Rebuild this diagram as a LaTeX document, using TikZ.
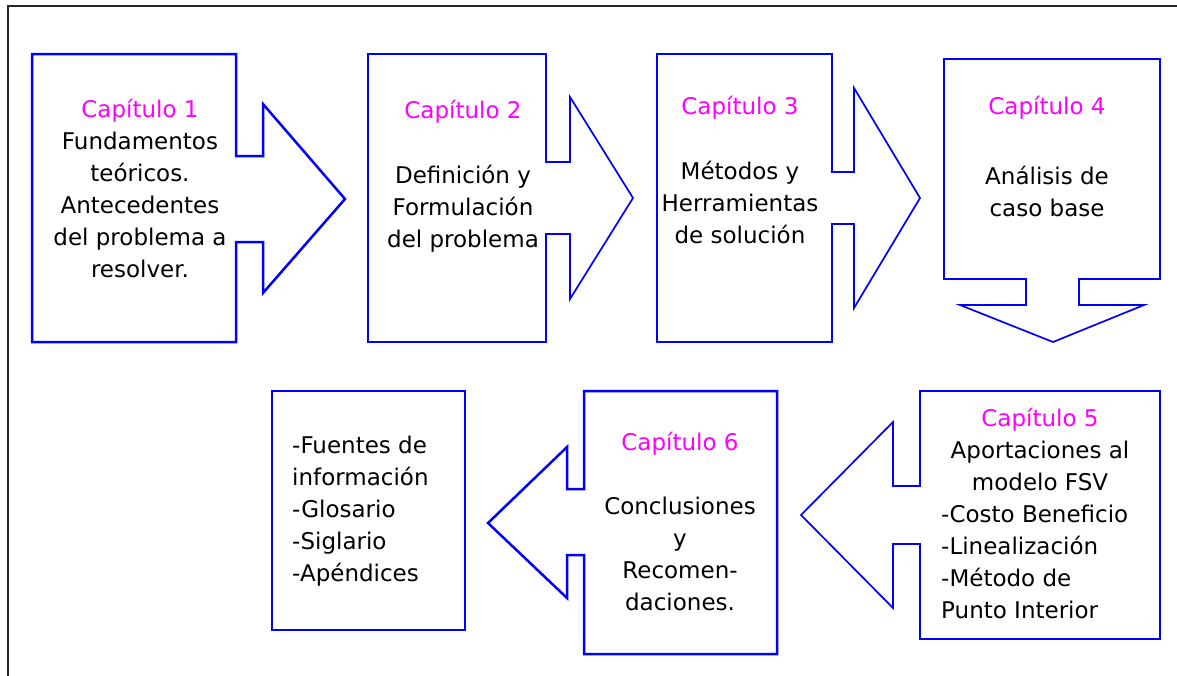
\documentclass[tikz,border=0pt]{standalone}
\usepackage{fontspec}
\setmainfont{DejaVu Sans}
\definecolor{cblue}{RGB}{0,0,255}
\definecolor{cmag}{RGB}{255,0,255}
\newcommand{\tstrut}{\rule{0pt}{24pt}}
\newcommand{\capit}[1]{{\color{cmag}Capítulo #1}}
\begin{document}
\begin{tikzpicture}[x=1pt,y=-1pt,
  shp/.style={draw=cblue, line width=1.7pt, line join=miter, fill=white},
  shpthick/.style={shp, line width=2.5pt},
  frame/.style={draw=black!85, line width=2pt},
  txt/.style={font=\fontsize{23}{32}\selectfont, inner sep=0pt, anchor=north, align=center, text=black},
  txtl/.style={txt, anchor=north west, align=left}]
\useasboundingbox (0,0) rectangle (1177,675);
\fill[white] (0,0) rectangle (1177,675);
\draw[frame] (8,680) -- (8,6) -- (1180,6);
% shapes
\draw[shpthick] (32,54) -- (236,54) -- (236,156) -- (263,156) -- (263,104) -- (345,199) -- (263,293) -- (263,242) -- (236,242) -- (236,342) -- (32,342) -- cycle;
\draw[shp] (368,54) -- (546,54) -- (546,162) -- (570,162) -- (570,97) -- (633,198) -- (570,299) -- (570,234) -- (546,234) -- (546,342) -- (368,342) -- cycle;
\draw[shp] (657,54) -- (832,54) -- (832,172) -- (854,172) -- (854,88) -- (920,198) -- (854,308) -- (854,224) -- (832,224) -- (832,342) -- (657,342) -- cycle;
\draw[shp] (944,59) -- (1160,59) -- (1160,279) -- (1079,279) -- (1079,305) -- (1144,305) -- (1053,342) -- (960,305) -- (1026,305) -- (1026,279) -- (944,279) -- cycle;
\draw[shp] (920,391) -- (1160,391) -- (1160,639) -- (920,639) -- (920,544) -- (893,544) -- (893,608) -- (801,515) -- (893,422) -- (893,486) -- (920,486) -- cycle;
\draw[shpthick] (584,391) -- (777,391) -- (777,654) -- (584,654) -- (584,555) -- (567,555) -- (567,598) -- (488,523) -- (567,447) -- (567,489) -- (584,489) -- cycle;
\draw[shpthick] (272,391) rectangle (465,630);
% texts
\node[txt] (t1) at (140,93) {\tstrut\capit{1}\\ Fundamentos\\ teóricos.\\ Antecedentes\\ del problema a\\ resolver.};
\node[txt] (t2) at (463,94) {\tstrut\capit{2}\\[33pt] Definición y\\ Formulación\\ del problema};
\node[txt] (t3) at (740,90) {\tstrut\capit{3}\\[33pt] Métodos y\\ Herramientas\\ de solución};
\node[txt] (t4) at (1047,90) {\tstrut\capit{4}\\[38pt] Análisis de\\ caso base};
\node[txt] (t5a) at (1040,402) {\tstrut\capit{5}\\ Aportaciones al\\ modelo FSV};
\node[txtl] (t5b) at (941,498) {\tstrut-Costo Beneficio\\ -Linealización\\ -Método de\\ Punto Interior};
\node[txt] (t6) at (680,426) {\tstrut\capit{6}\\[32pt] Conclusiones\\ y\\ Recomen-\\ daciones.};
\node[txtl] (t7) at (292,429) {\tstrut-Fuentes de\\ información\\ -Glosario\\ -Siglario\\ -Apéndices};
\end{tikzpicture}
\end{document}
